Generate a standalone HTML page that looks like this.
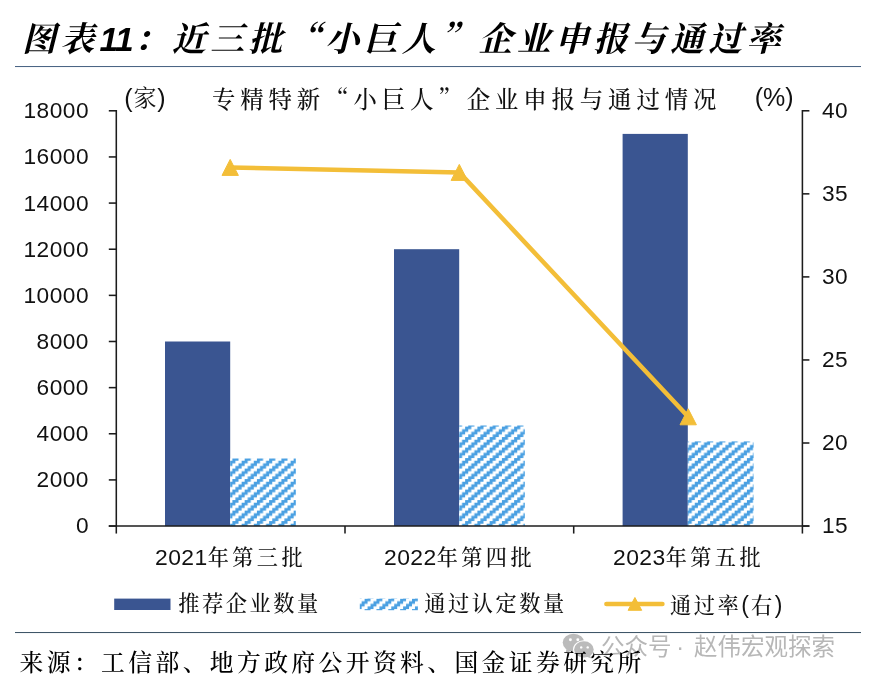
<!DOCTYPE html><html lang="zh-CN"><head><meta charset="utf-8"><title>图表11</title><style>
html,body{margin:0;padding:0;background:#fff}
#c{position:relative;width:878px;height:686px;overflow:hidden;background:#fff}
.t{position:absolute;white-space:nowrap;line-height:1.2;color:#111;font-family:"Liberation Serif","Noto Serif CJK SC",serif;font-weight:500}
.q{font-family:"Noto Serif CJK SC","Liberation Serif",serif}
.title{font-size:34px;font-weight:700;font-style:italic;letter-spacing:4.3px;color:#000}
.title .n{font-family:"Liberation Sans","Noto Sans CJK SC",sans-serif;font-size:33.5px;letter-spacing:-0.8px;margin-left:1px;margin-right:0.9px}
.sub{font-size:23.4px;letter-spacing:4.9px}
.unit{font-weight:400;font-family:"Liberation Sans","Noto Sans CJK SC",sans-serif;font-size:25px}
.unit .k{font-family:"Liberation Serif","Noto Serif CJK SC",serif;font-size:23px;margin:0 0.9px;position:relative;top:-1px}
.unit2{font-weight:400;font-family:"Liberation Sans","Noto Sans CJK SC",sans-serif;font-size:25px}
.ax{font-weight:400;font-family:"Liberation Sans","Noto Sans CJK SC",sans-serif;font-size:22.7px;letter-spacing:0.5px}
.cat{font-weight:400;font-family:"Liberation Sans","Noto Sans CJK SC",sans-serif;font-size:22.9px;letter-spacing:0.45px}
.cat .k{font-weight:500;font-family:"Liberation Serif","Noto Serif CJK SC",serif;font-size:21.2px;letter-spacing:3.4px}
.leg{font-size:21.2px;letter-spacing:2.55px}
.leg .p{font-weight:400;font-family:"Liberation Sans","Noto Sans CJK SC",sans-serif;font-size:23px;letter-spacing:0;margin-right:2px}
.src{font-size:23.8px;letter-spacing:3.38px;color:#000;font-weight:500}
.wm{font-weight:400;font-family:"Liberation Sans","Noto Sans CJK SC",sans-serif;font-size:23.5px;letter-spacing:0;color:#b7b7b7}
.wm .d{display:inline-block;width:22.5px;text-align:center;text-indent:-5px}
</style></head><body><div id="c"><svg width="878" height="686" viewBox="0 0 878 686" style="position:absolute;left:0;top:0"><defs><pattern id="h" patternUnits="userSpaceOnUse" width="12.25" height="10.5" x="232.4" y="458.1"><rect width="12.25" height="10.5" fill="#fff"/><path fill="#4aa0e2" d="M0.000 0.000h3.062v2.625h-3.062zM3.062 0.000h3.062v2.625h-3.062zM0.000 2.625h3.062v2.625h-3.062zM9.188 2.625h3.062v2.625h-3.062zM6.125 5.250h3.062v2.625h-3.062zM9.188 5.250h3.062v2.625h-3.062zM3.062 7.875h3.062v2.625h-3.062zM6.125 7.875h3.062v2.625h-3.062z"/></pattern><pattern id="h2" patternUnits="userSpaceOnUse" width="11.85" height="10.5" x="364.6" y="598.6"><rect width="12" height="10.5" fill="#fff"/><path fill="#4aa0e2" transform="scale(0.967 1)" d="M0.000 0.000h3.062v2.625h-3.062zM3.062 0.000h3.062v2.625h-3.062zM0.000 2.625h3.062v2.625h-3.062zM9.188 2.625h3.062v2.625h-3.062zM6.125 5.250h3.062v2.625h-3.062zM9.188 5.250h3.062v2.625h-3.062zM3.062 7.875h3.062v2.625h-3.062zM6.125 7.875h3.062v2.625h-3.062z"/></pattern></defs><rect x="15" y="66" width="846" height="1.05" fill="#4b6585"/><rect x="15" y="632" width="846" height="1.05" fill="#3f5668"/><rect x="165" y="341.5" width="65.2" height="184.6" fill="#3a5591"/><rect x="230.2" y="458.5" width="65.6" height="67.6" fill="url(#h)"/><rect x="394" y="249.2" width="65.2" height="276.8" fill="#3a5591"/><rect x="459.2" y="425.5" width="65.6" height="100.5" fill="url(#h)"/><rect x="622.6" y="133.9" width="65.2" height="392.2" fill="#3a5591"/><rect x="687.8" y="441.4" width="65.8" height="84.7" fill="url(#h)"/><g stroke="#1c1c1c" stroke-width="1.55" fill="none"><path d="M116.3 110.0 V526.05"/><path d="M802.4 110.0 V526.05"/><path d="M108.8 526.05 H809.4"/><path d="M108.8 110.80 H116.3"/><path d="M108.8 156.94 H116.3"/><path d="M108.8 203.08 H116.3"/><path d="M108.8 249.22 H116.3"/><path d="M108.8 295.36 H116.3"/><path d="M108.8 341.49 H116.3"/><path d="M108.8 387.63 H116.3"/><path d="M108.8 433.77 H116.3"/><path d="M108.8 479.91 H116.3"/><path d="M108.8 526.05 H116.3"/><path d="M802.4 110.80 H809.4"/><path d="M802.4 193.85 H809.4"/><path d="M802.4 276.90 H809.4"/><path d="M802.4 359.95 H809.4"/><path d="M802.4 443.00 H809.4"/><path d="M802.4 526.05 H809.4"/><path d="M116.30 526.05 V533.55"/><path d="M345.00 526.05 V533.55"/><path d="M573.70 526.05 V533.55"/><path d="M802.40 526.05 V533.55"/></g><polyline points="230.2,167.4 459.3,172.4 688.2,416.8" fill="none" stroke="#f3be38" stroke-width="4.5" stroke-linejoin="round"/><path d="M230.2 159.4 L238.4 175.4 H222.0 Z" fill="#f3be38" stroke="#f3be38" stroke-width="1" stroke-linejoin="round"/><path d="M459.3 164.4 L467.5 180.4 H451.1 Z" fill="#f3be38" stroke="#f3be38" stroke-width="1" stroke-linejoin="round"/><path d="M688.2 408.8 L696.4 424.8 H680.0 Z" fill="#f3be38" stroke="#f3be38" stroke-width="1" stroke-linejoin="round"/><rect x="114.2" y="598.6" width="56.3" height="11.4" fill="#3a5591"/><rect x="359.8" y="598.6" width="58.1" height="11.6" fill="url(#h2)"/><path d="M606.4 604 H662.4" stroke="#f3be38" stroke-width="4.6" stroke-linecap="round"/><path d="M634.9 597.5 L641.7 610.3 H628.1 Z" fill="#f3be38" stroke="#f3be38" stroke-width="1" stroke-linejoin="round"/><g><ellipse cx="573.5" cy="642.6" rx="10.8" ry="8.9" fill="#bbbbbb"/><path d="M566.5 649 l-1 4.6 5.5-2.6z" fill="#bbbbbb"/><ellipse cx="583.9" cy="649.4" rx="10.9" ry="9.1" fill="#fff"/><ellipse cx="583.9" cy="649.4" rx="9.8" ry="8.1" fill="#bbbbbb"/><path d="M589.5 655 l2 3.6 -5.5-2z" fill="#bbbbbb"/><circle cx="570.4" cy="639.7" r="1.45" fill="#fff"/><circle cx="577.8" cy="639.7" r="1.45" fill="#fff"/><circle cx="581.2" cy="647.4" r="1.2" fill="#fff"/><circle cx="587.7" cy="647.4" r="1.2" fill="#fff"/></g></svg><div class="t title" style="left:22px;top:17px;">图表<span class="n">11</span>：近三批<span class="q">“</span>小巨人<span class="q">”</span>企业申报与通过率</div><div class="t sub" style="left:212px;top:83.5px;">专精特新<span class="q">“</span>小巨人<span class="q">”</span>企业申报与通过情况</div><div class="t unit" style="left:124.2px;top:83.4px;">(<span class="k">家</span>)</div><div class="t unit2" style="left:754.8px;top:81.6px;">(%)</div><div class="t ax" style="left:0;width:89px;text-align:right;top:97.2px">18000</div><div class="t ax" style="left:0;width:89px;text-align:right;top:143.3px">16000</div><div class="t ax" style="left:0;width:89px;text-align:right;top:189.5px">14000</div><div class="t ax" style="left:0;width:89px;text-align:right;top:235.6px">12000</div><div class="t ax" style="left:0;width:89px;text-align:right;top:281.8px">10000</div><div class="t ax" style="left:0;width:89px;text-align:right;top:327.9px">8000</div><div class="t ax" style="left:0;width:89px;text-align:right;top:374.0px">6000</div><div class="t ax" style="left:0;width:89px;text-align:right;top:420.2px">4000</div><div class="t ax" style="left:0;width:89px;text-align:right;top:466.3px">2000</div><div class="t ax" style="left:0;width:89px;text-align:right;top:512.4px">0</div><div class="t ax" style="left:822px;top:97.2px">40</div><div class="t ax" style="left:822px;top:180.2px">35</div><div class="t ax" style="left:822px;top:263.3px">30</div><div class="t ax" style="left:822px;top:346.3px">25</div><div class="t ax" style="left:822px;top:429.4px">20</div><div class="t ax" style="left:822px;top:512.4px">15</div><div class="t cat" style="left:80.5px;width:300px;text-align:center;top:543.8px">2021<span class="k">年第三批</span></div><div class="t cat" style="left:309.5px;width:300px;text-align:center;top:543.8px">2022<span class="k">年第四批</span></div><div class="t cat" style="left:538.5px;width:300px;text-align:center;top:543.8px">2023<span class="k">年第五批</span></div><div class="t leg" style="left:178.2px;top:592.4px;">推荐企业数量</div><div class="t leg" style="left:424.3px;top:592.4px;">通过认定数量</div><div class="t leg" style="left:670px;top:592.4px;">通过率<span class="p">(</span>右<span class="p">)</span></div><div class="t wm" style="left:601px;top:632.6px;">公众号<span class="d">·</span>赵伟宏观探索</div><div class="t src" style="left:19.6px;top:648.6px;">来源：工信部、地方政府公开资料、国金证券研究所</div></div></body></html>
